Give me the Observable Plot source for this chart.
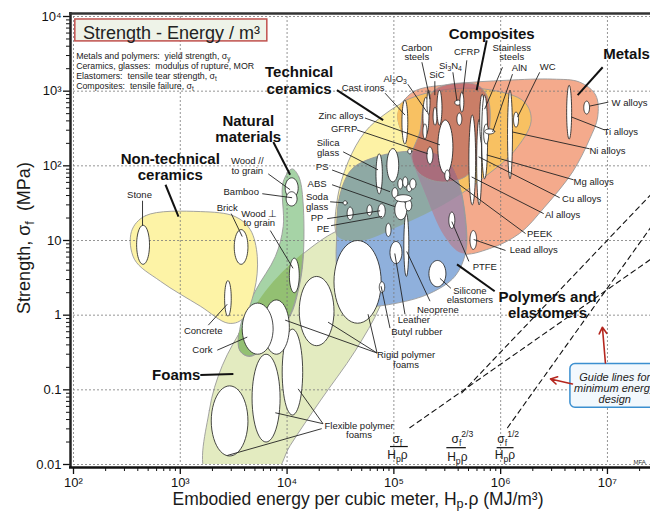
<!DOCTYPE html>
<html><head><meta charset="utf-8">
<script src="https://cdn.jsdelivr.net/npm/d3@7"></script>
<script src="https://cdn.jsdelivr.net/npm/@observablehq/plot@0.6"></script>
<style>
html,body{margin:0;padding:0;background:#fff;overflow:hidden}
</style></head><body><div id="chart"></div>
<script>
// ---------- axes ----------
const xMajor = [1e2, 1e3, 1e4, 1e5, 1e6, 1e7];
const xTickLabels = ["10²", "10³", "10⁴", "10⁵", "10⁶", "10⁷"];
const yMajor = [0.01, 0.1, 1, 10, 100, 1000, 10000];
const yTickLabels = ["0.01", "0.1", "1", "10", "10²", "10³", "10⁴"];

// ---------- material property ellipses: [name, Hρ min, Hρ max, σf min, σf max] ----------
const ellipses = [
  ["Stone", 390, 515, 4.8, 16],
  ["Brick", 3200, 4300, 4.8, 14],
  ["Concrete", 2600, 3000, 0.97, 2.9],
  ["Wood //", 9600, 12700, 37, 69],
  ["Bamboo", 9800, 12400, 29, 45],
  ["Wood ⊥", 10500, 13000, 2.0, 5.8],
  ["Flexible foam 3", 1950, 4300, 0.013, 0.113],
  ["Flexible foam 2", 4700, 8600, 0.020, 0.30],
  ["Flexible foam 1", 9000, 14000, 0.046, 0.65],
  ["Rigid foam 1", 6000, 10500, 0.30, 1.6],
  ["Cork", 3800, 7400, 0.30, 1.45],
  ["Rigid foam 2", 13000, 27500, 0.39, 3.3],
  ["Rigid foam 3", 27500, 76000, 0.78, 10],
  ["Butyl rubber", 73000, 82000, 2.0, 2.8],
  ["Silicone elastomers", 213000, 307000, 2.4, 5.4],
  ["Leather", 92000, 119000, 4.9, 9.7],
  ["Neoprene", 124000, 138000, 3.3, 23],
  ["Elastomer", 84000, 94000, 11.3, 17],
  ["PTFE", 327000, 372000, 14.5, 24],
  ["Lead alloys", 516000, 596000, 7.6, 13.6],
  ["Soda glass", 33500, 36500, 30, 34],
  ["PP", 36500, 41500, 19, 28],
  ["PP 2", 56000, 62500, 21.5, 30],
  ["PE", 71000, 83000, 20, 31],
  ["Silica glass", 68000, 78000, 42, 145],
  ["PS", 86000, 111000, 61, 170],
  ["Polymer g", 102000, 132000, 19, 35],
  ["Polymer h", 128000, 147000, 25, 35],
  ["Polymer e", 96000, 109000, 37, 51],
  ["Polymer f", 102000, 147000, 33, 41],
  ["ABS", 109000, 121000, 49, 67],
  ["Polymer b", 121000, 135000, 52, 71],
  ["Polymer c", 132000, 147000, 45, 57],
  ["Polymer d", 141000, 161000, 49, 67],
  ["Glass", 135000, 147000, 145, 169],
  ["Cast irons", 119000, 135000, 196, 760],
  ["Al2O3", 187000, 213000, 260, 830],
  ["Carbon steels", 204000, 218000, 490, 1030],
  ["SiC", 233000, 253000, 350, 610],
  ["Carbon steels 2", 253000, 282000, 350, 1030],
  ["Ceramic", 187000, 204000, 230, 365],
  ["Si3N4", 372000, 424000, 650, 760],
  ["CFRP", 415000, 452000, 525, 970],
  ["Composite", 389000, 433000, 350, 510],
  ["Zinc alloys", 258000, 357000, 78, 410],
  ["GFRP", 204000, 232000, 106, 179],
  ["PEEK", 300000, 334000, 63, 88],
  ["Al alloys", 504000, 583000, 30, 480],
  ["Cu alloys", 596000, 664000, 30, 420],
  ["Stainless steels", 636000, 708000, 196, 910],
  ["Mg alloys", 664000, 755000, 67, 885],
  ["Metal", 693000, 772000, 196, 363],
  ["AlN", 708000, 879000, 267, 312],
  ["Ni alloys", 1160000, 1290000, 67, 1030],
  ["WC", 1320000, 1470000, 330, 525],
  ["Ti alloys", 4150000, 4620000, 228, 1200],
  ["W alloys", 6000000, 6800000, 494, 736]
];

// ---------- family envelopes: [Hρ, σf] outline points ----------
const envFoams = [[1790,0.0071],[1870,0.053],[2470,0.21],[4060,0.78],[6960,2.44],[15000,7.1],[31400,14],[59800,16.9],[96000,12.4],[97800,4.5],[74300,1.32],[43300,0.33],[20400,0.071],[10700,0.018],[7260,0.0071]];
const envNatural = [[11140,91],[12900,71],[14100,33],[14100,5.3],[12700,2.1],[10670,0.97],[6960,0.45],[4520,0.28],[3650,0.33],[3650,0.71],[5040,2.1],[7760,6.1],[9200,15.4],[9200,61]];
const envNonTech = [[349,13.2],[472,21.5],[1540,24.4],[3270,20.9],[4520,14],[5260,6.1],[4930,2.1],[3800,0.88],[2810,0.78],[1540,1.32],[653,2.84],[372,5.6]];
const envTechCeramics = [[29900,11.3],[29300,33],[37300,113],[53600,284],[82700,494],[141000,780],[300000,1030],[790000,1030],[1680000,710],[1950000,390],[1350000,154],[790000,78],[334000,33],[114000,15.4],[48200,9.7]];
const envMetals = [[109000,494],[150000,970],[357000,1240],[1140000,1400],[3070000,1450],[5500000,1320],[7760000,885],[8100000,450],[6810000,228],[4720000,83],[2580000,28],[1500000,12.4],[790000,7.8],[433000,6.7],[300000,11.3],[195000,45],[135000,179]];
const envPolymers = [[29300,13.2],[31400,39],[40600,88],[66600,128],[157000,154],[300000,124],[397000,65],[472000,18],[472000,7.1],[372000,3.3],[218000,1.96],[107000,1.45],[53600,1.32],[34900,1.63],[29300,3.9]];
const envComposites = [[175000,284],[195000,713],[258000,1100],[397000,1280],[609000,1200],[755000,832],[790000,331],[664000,132],[462000,71],[270000,61],[175000,78],[147000,132]];

// ---------- labels ----------
const materialLabels = [
  ["Stone", 415, 41], ["Brick", 2750, 27.6], ["Concrete", 1640, 0.61], ["Cork", 1610, 0.34],
  ["Wood //\nto grain", 4240, 100], ["Bamboo", 3720, 45], ["Wood ⊥\nto grain", 5490, 19.6],
  ["Rigid polymer\nfoams", 130000, 0.25], ["Flexible polymer\nfoams", 47200, 0.0284],
  ["Silicone\nelastomers", 515000, 1.85], ["Neoprene", 258000, 1.17], ["Leather", 154000, 0.86],
  ["Butyl rubber", 164000, 0.59], ["PTFE", 710000, 4.37], ["Lead alloys", 2040000, 7.36],
  ["PEEK", 2320000, 12.4], ["Al alloys", 3800000, 22.2], ["Cu alloys", 5730000, 36.3],
  ["Mg alloys", 7430000, 61], ["Ni alloys", 10000000, 158], ["Ti alloys", 13300000, 284],
  ["W alloys", 16100000, 692], ["WC", 2750000, 2090], ["AlN", 1500000, 2030],
  ["Stainless\nsteels", 1270000, 3310], ["CFRP", 482000, 3310], ["SiC", 253000, 1630],
  ["Carbon\nsteels", 164000, 3310], ["Cast irons", 51500, 1100], ["Zinc alloys", 32000, 464],
  ["GFRP", 34200, 311], ["Silica\nglass", 24200, 174], ["PS", 21300, 97], ["ABS", 19100, 57.5],
  ["Soda\nglass", 19100, 33], ["PP", 19100, 19.8], ["PE", 21700, 14.4]
];
const richMaterialLabels = [["Si_{3}N_{4}", 342000, 2220], ["Al_{2}O_{3}", 104000, 1490]];
const familyLabels = [
  ["Non-technical\nceramics", 806, 97], ["Natural\nmaterials", 4330, 311], ["Foams", 917, 0.158],
  ["Technical\nceramics", 12950, 1400], ["Composites", 824000, 5930], ["Metals", 15100000, 3120],
  ["Polymers and\nelastomers", 2750000, 1.36]
];
// leader lines [x1, y1, x2, y2]
const leaders = [
  [443,34.1,443,15.8],[3000,22.9,3800,11.3],[1830,0.735,2750,1.40],[2220,0.34,4240,0.509],
  [6660,78,10670,47.9],[5860,42.3,11140,37.4],[6960,13.6,11370,4.24],
  [69600,0.311,9600,0.858],[69600,0.311,24200,0.806],[69600,0.311,57300,1.03],
  [21700,0.0352,12700,0.103],[21700,0.0352,7760,0.0493],[21100,0.0302,2750,0.0132],
  [342000,2.29,270000,3.11],[218000,1.54,132000,7.13],[127000,1.03,102000,6.7],[92000,0.67,75900,2.44],
  [504000,5.25,349000,17.9],[1110000,7.36,559000,10.3],[1710000,12.4,327000,71],
  [2530000,22.9,535000,71],[3570000,37.4,622000,132],[4820000,65,740000,140],
  [6810000,169,1290000,284],[9420000,302,4620000,450],[10200000,713,6810000,631],
  [2320000,1790,1440000,450],[1290000,1690,841000,284],[1040000,2090,708000,575],
  [482000,2590,443000,912],[357000,1790,390000,736],[242000,1360,242000,885],
  [183000,2440,218000,782],[135000,1240,204000,525],[82700,940,127000,479],
  [53600,437,270000,191],[45200,302,208000,145],[33500,154,71000,88.4],
  [26400,88,92000,45],[26400,55.8,102000,28.4],[25300,33,33500,32],
  [23700,19.6,74300,25],[25800,15.8,77600,21]
];
const familyLeaders = [
  [727,55.8,962,20.9],[7430,209,10670,75.9],[1540,0.158,3140,0.163],[29300,1030,79400,410],
  [740000,4790,596000,1030],[9020000,2090,5260000,885],[879000,2.09,390000,4.79]
];
// guide lines: start point and exponent
const guides = [[141000, 0.0311, 1], [433000, 0.0912, 1.5], [1160000, 0.0311, 2]];
const guideLabels = [
  ["σ_{f}", 109000, 0.0215], ["H_{p}ρ", 109000, 0.0132],
  ["σ_{f}^{2/3}", 443000, 0.0215], ["H_{p}ρ", 397000, 0.0123],
  ["σ_{f}^{1/2}", 1190000, 0.0215], ["H_{p}ρ", 1110000, 0.0132]
];
const fractionBars = [[92000, 135000, 0.0174], [310000, 472000, 0.0168], [917000, 1320000, 0.0168]];
const notes = [
  "Metals and polymers:  yield strength, σ_{y}",
  "Ceramics, glasses:  modulus of rupture, MOR",
  "Elastomers:  tensile tear strength, σ_{t}",
  "Composites:  tensile failure, σ_{t}"
];
const noteY = [2930, 2150, 1580, 1170];

// ---------- build ----------
const XMAX = 2.53e7;
const ellipsePts = ellipses.flatMap(([name, x0, x1, y0, y1], i) => {
  const cx = (Math.log10(x0) + Math.log10(x1)) / 2, rx = (Math.log10(x1) - Math.log10(x0)) / 2;
  const cy = (Math.log10(y0) + Math.log10(y1)) / 2, ry = (Math.log10(y1) - Math.log10(y0)) / 2;
  return d3.range(48).map(k => {
    const t = 2 * Math.PI * k / 48;
    return {id: i, name, x: 10 ** (cx + rx * Math.cos(t)), y: 10 ** (cy + ry * Math.sin(t))};
  });
});
// [key, points, fill, opacity] -- drawn first, in this order
const envelopes = [
  ["foams", envFoams, "#e3ebc0", 1],
  ["natural", envNatural, "#a6d3a6", 1],
  ["nontech", envNonTech, "#fdf3a6", 1],
  ["ceramics", envTechCeramics, "#fdf2a5", 1],
  ["metals", envMetals, "#f4aa8c", 1],
  ["polymers", envPolymers, "#8fb0dc", 1],
  ["composites", envComposites, "#b05b6a", 0.65]
];
// overlap tints: [drawn shape, clipped by..., colour]
const overlaps = [
  ["natural", ["foams"], "#93c072"],
  ["ceramics", ["metals"], "#f8c162"],
  ["polymers", ["ceramics"], "#8ea9a4"],
  ["polymers", ["metals"], "#ab8ea6"],
  ["polymers", ["metals", "ceramics"], "#9a8f9e"]
];
const guidePts = guides.flatMap(([x, y, k], i) => [
  {id: i, x, y}, {id: i, x: XMAX, y: y * (XMAX / x) ** k}
]);
const link = d => ({x1: d[0], y1: d[1], x2: d[2], y2: d[3]});
const minor = (e0, e1) => d3.range(e0, e1 + 1).flatMap(e => d3.range(2, 10).map(m => m * 10 ** e));
const xMinor = minor(2, 7).filter(v => v < XMAX);
const yMinor = minor(-2, 3);
const FONT = "'Liberation Sans', Arial, Helvetica, sans-serif";

const plot = Plot.plot({
  width: 650, height: 512,
  marginLeft: 73, marginRight: 0, marginTop: 16, marginBottom: 48,
  x: {type: "log", domain: [100, XMAX]},
  y: {type: "log", domain: [0.01, 10000]},
  style: {fontFamily: FONT, background: "white", overflow: "hidden", color: "#111"},
  marks: [
    ...envelopes.map(([key, pts, color, op]) => Plot.line(pts, {
      x: d => d[0], y: d => d[1], curve: "catmull-rom-closed",
      fill: color, fillOpacity: op, stroke: "#9a9a9a", strokeWidth: 0.9, clip: true
    })),
    Plot.gridX(xMajor, {stroke: "#7a7a7a", strokeOpacity: 1, strokeDasharray: "2,2", strokeWidth: 0.8}),
    Plot.gridY(yMajor, {stroke: "#7a7a7a", strokeOpacity: 1, strokeDasharray: "2,2", strokeWidth: 0.8}),
    Plot.line(ellipsePts, {x: "x", y: "y", z: "id", curve: "linear-closed", fill: "white", stroke: "#1a1a1a", strokeWidth: 0.8}),
    Plot.link(leaders.map(link), {x1: "x1", y1: "y1", x2: "x2", y2: "y2", stroke: "#222", strokeWidth: 0.9}),
    Plot.link(familyLeaders.map(link), {x1: "x1", y1: "y1", x2: "x2", y2: "y2", stroke: "#111", strokeWidth: 2}),
    Plot.text(materialLabels, {x: d => d[1], y: d => d[2], text: d => d[0], fontSize: 9.5, fill: "#1a1a1a", lineHeight: 1.0}),
    Plot.text(familyLabels, {x: d => d[1], y: d => d[2], text: d => d[0], fontSize: 15, fontWeight: "bold", fill: "#111", lineHeight: 1.08}),
    Plot.line(guidePts, {x: "x", y: "y", z: "id", stroke: "#111", strokeWidth: 1.1, strokeDasharray: "5,4", clip: true}),
    Plot.link(fractionBars, {x1: d => d[0], x2: d => d[1], y1: d => d[2], y2: d => d[2], stroke: "#111", strokeWidth: 1.2}),
    // title box
    Plot.rect([[104, 6530, 4640, 9120]], {x1: d => d[0], x2: d => d[1], y1: d => d[2], y2: d => d[3], fill: "#eef3e8", stroke: "#c0504d", strokeWidth: 1.5}),
    Plot.text([[827, 5930]], {x: d => d[0], y: d => d[1], text: () => "Strength - Energy / m³", fontSize: 18, fill: "#222"}),
    // guide box
    Plot.rect([[4.5e6, 4e7, 0.0575, 0.222]], {x1: d => d[0], x2: d => d[1], y1: d => d[2], y2: d => d[3], fill: "#f2f8fd", stroke: "#3b8fd0", strokeWidth: 1.5, rx: 5}),
    Plot.text([[1.17e7, 0.103]], {x: d => d[0], y: d => d[1], text: () => "Guide lines for\nminimum energy\ndesign", fontSize: 11, fontStyle: "italic", fill: "#222", lineHeight: 1.0}),
    Plot.arrow([[9.57e6, 0.229, 8.97e6, 0.69], [4.7e6, 0.12, 2.93e6, 0.14]], {x1: d => d[0], y1: d => d[1], x2: d => d[2], y2: d => d[3], stroke: "#b5261e", strokeWidth: 1.6, headLength: 7}),
    Plot.text([[2.0e7, 0.0109]], {x: d => d[0], y: d => d[1], text: () => "MFA", fontSize: 6, fill: "#333"}),
    // axes
    Plot.axisX({ticks: xMajor, tickFormat: d => xTickLabels[xMajor.indexOf(d)], tickSize: 7, tickPadding: 3, fontSize: 13, label: null, dy: 3, strokeWidth: 1.3}),
    Plot.axisX({ticks: xMinor, tickFormat: () => "", tickSize: 4, label: null, dy: 3}),
    Plot.axisY({ticks: yMajor, tickFormat: d => yTickLabels[yMajor.indexOf(d)], tickSize: 7, tickPadding: 2, fontSize: 13, label: null, dx: -3, strokeWidth: 1.3}),
    Plot.axisY({ticks: yMinor, tickFormat: () => "", tickSize: 4, label: null, dx: -3}),
    Plot.ruleX([100], {dx: -3, insetTop: -4, insetBottom: -4, strokeWidth: 2.5, stroke: "#222"}),
    Plot.ruleY([10000], {dy: -3, insetLeft: -4, strokeWidth: 2.5, stroke: "#333"}),
    Plot.ruleY([0.01], {dy: 3, insetLeft: -4, strokeWidth: 2.5, stroke: "#111"})
  ]
});
document.getElementById("chart").appendChild(plot);

// ---------- overlap tints, reusing the envelope paths Plot drew ----------
const svg = d3.select(plot);
try {
  const envGroups = Array.from(plot.children).filter(n => n.tagName.toLowerCase() === "g").slice(0, envelopes.length);
  const pathD = {};
  envelopes.forEach(([key], i) => {
    const p = envGroups[i] && envGroups[i].querySelector("path");
    if (p) pathD[key] = p.getAttribute("d");
  });
  const defs = svg.append("defs");
  ["foams", "metals", "ceramics"].forEach(key => {
    defs.append("clipPath").attr("id", "clip-env-" + key).append("path").attr("d", pathD[key]);
  });
  const compG = envGroups[envelopes.length - 1];
  const layer = document.createElementNS("http://www.w3.org/2000/svg", "g");
  compG.parentNode.insertBefore(layer, compG);
  overlaps.forEach(([shape, clips, color]) => {
    let g = d3.select(layer);
    clips.forEach(c => { g = g.append("g").attr("clip-path", `url(#clip-env-${c})`); });
    g.append("path").attr("d", pathD[shape]).attr("fill", color).attr("stroke", "#9a9a9a").attr("stroke-width", 0.9);
  });
} catch (e) { console.error(e); }

// ---------- rich text (sub/superscripts) ----------
const sx = plot.scale("x"), sy = plot.scale("y");
function rich(sel, str, fs) {
  const parts = str.split(/(_\{[^}]*\}|\^\{[^}]*\})/g).filter(s => s !== "");
  let shift = 0;
  for (const p of parts) {
    let txt = p, target = 0, size = fs;
    if (p.startsWith("_{")) { txt = p.slice(2, -1); target = 0.3 * fs; size = 0.72 * fs; }
    else if (p.startsWith("^{")) { txt = p.slice(2, -1); target = -0.45 * fs; size = 0.72 * fs; }
    sel.append("tspan").attr("dy", target - shift).attr("font-size", size).text(txt);
    shift = target;
  }
}
function addText(str, px, py, fs, anchor, extra) {
  const t = svg.append("text").attr("x", px).attr("y", py).attr("text-anchor", anchor)
    .attr("dominant-baseline", "central").attr("font-size", fs).attr("fill", "#1a1a1a")
    .attr("font-family", FONT).style("white-space", "pre");
  if (extra) extra(t);
  rich(t, str, fs);
  return t;
}
richMaterialLabels.forEach(([s, x, y]) => addText(s, sx.apply(x), sy.apply(y), 9.5, "middle"));
guideLabels.forEach(([s, x, y]) => addText(s, sx.apply(x), sy.apply(y), 12, "middle"));
notes.forEach((s, i) => addText(s, sx.apply(107), sy.apply(noteY[i]), 8.8, "start"));
addText("Strength, σ_{f}  (MPa)", 0, 0, 18, "middle", t => t.attr("transform", "translate(24,238) rotate(-90)"));
addText("Embodied energy per cubic meter, H_{p}.ρ (MJ/m³)", 358, 499, 17.5, "middle");
</script>
</body></html>
